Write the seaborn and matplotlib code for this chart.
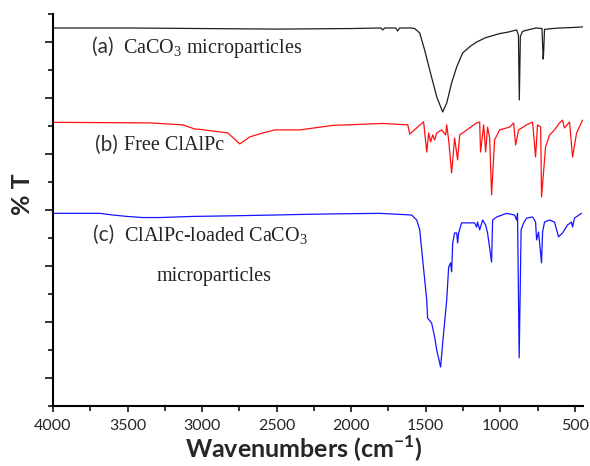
import numpy as np
import pandas as pd
import matplotlib
matplotlib.use('Agg')
import matplotlib.pyplot as plt
import seaborn as sns
from matplotlib.ticker import MultipleLocator

# spectra (wavenumber in cm-1, stacked %T in arbitrary units)
wn_a = [4000, 3500, 3000, 2500, 2000, 1800, 1788, 1775, 1700, 1688, 1675, 1600, 1574,
        1540, 1507, 1473, 1426, 1386, 1359, 1326, 1292, 1252, 1200, 1158, 1100, 1004,
        950, 890, 878, 872, 865, 850, 800, 760, 720, 712, 709, 703, 650, 600, 500, 448]
t_a = [13.50, 13.50, 13.48, 13.46, 13.48, 13.50, 13.43, 13.50, 13.50, 13.39, 13.50, 13.50, 13.48,
       13.32, 12.71, 12.00, 11.04, 10.50, 10.82, 11.54, 12.11, 12.61, 12.85, 13.00, 13.15, 13.30,
       13.35, 13.43, 13.25, 10.93, 13.20, 13.38, 13.45, 13.50, 13.48, 12.39, 12.60, 13.45, 13.48, 13.50, 13.52, 13.54]

wn_b = [4000, 3350, 3129, 3048, 3015, 2827, 2747, 2680, 2593, 2512, 2345, 2123, 1788, 1620,
        1607, 1514, 1493, 1480, 1467, 1453, 1440, 1426, 1393, 1366, 1359, 1346, 1326, 1306,
        1286, 1272, 1205, 1158, 1138, 1132, 1111, 1098, 1085, 1071, 1058, 1038, 1004, 937,
        910, 897, 877, 823, 783, 763, 750, 729, 723, 696, 669, 636, 602, 582, 569, 535, 515, 488, 448]
t_b = [10.13, 10.11, 10.04, 9.89, 9.88, 9.75, 9.36, 9.61, 9.75, 9.86, 9.86, 10.02, 10.09, 10.04,
       9.71, 10.15, 9.07, 9.75, 9.43, 9.68, 9.50, 9.75, 9.86, 9.68, 10.04, 9.50, 8.32, 9.57,
       8.79, 9.68, 9.93, 10.11, 10.14, 9.07, 10.04, 9.07, 9.96, 9.57, 7.54, 9.50, 9.86, 9.96,
       10.11, 9.32, 9.86, 10.04, 10.14, 8.89, 10.04, 9.96, 7.46, 9.25, 9.68, 9.86, 10.11, 10.21, 9.93, 10.14, 8.89, 9.75, 10.21]

wn_c = [4000, 3685, 3598, 3504, 3397, 3283, 3062, 2814, 2512, 2345, 2123, 1808, 1594, 1560,
        1540, 1520, 1493, 1487, 1460, 1440, 1426, 1400, 1386, 1359, 1346, 1333, 1326, 1319,
        1306, 1292, 1286, 1279, 1259, 1172, 1158, 1152, 1138, 1118, 1098, 1085, 1058, 1051,
        1024, 957, 904, 890, 884, 873, 860, 843, 823, 783, 763, 756, 743, 723, 716, 703,
        669, 636, 609, 582, 549, 522, 515, 502, 455]
t_c = [6.88, 6.88, 6.82, 6.77, 6.73, 6.73, 6.77, 6.79, 6.82, 6.84, 6.86, 6.88, 6.82, 6.64,
       6.29, 5.21, 3.79, 3.14, 2.96, 2.46, 2.00, 1.39, 2.25, 3.79, 4.96, 5.11, 4.79, 5.82,
       6.18, 6.18, 5.82, 6.18, 6.54, 6.54, 6.39, 6.57, 6.29, 6.64, 6.46, 6.18, 5.14, 6.64,
       6.75, 6.88, 6.82, 6.64, 6.88, 1.72, 6.29, 6.54, 6.71, 6.75, 6.57, 5.93, 6.21, 5.11, 6.21, 6.57,
       6.64, 6.57, 6.04, 6.18, 6.46, 6.57, 6.39, 6.71, 6.88]

x_ticks = [4000, 3500, 3000, 2500, 2000, 1500, 1000, 500]

sns.set_style('ticks')
plt.rcParams['font.family'] = ['Lato', 'DejaVu Sans']
plt.rcParams['mathtext.fontset'] = 'custom'
plt.rcParams['mathtext.rm'] = 'Liberation Serif'
plt.rcParams['mathtext.bf'] = 'Lato:bold'

fig = plt.figure(figsize=(5.9, 4.66), dpi=100)
ax = fig.add_axes([0.0898, 0.1288, 0.8983, 0.8412])

for wn, t, col in [(wn_a, t_a, '#1e1e1e'), (wn_b, t_b, '#ff1010'), (wn_c, t_c, '#1414ff')]:
    df = pd.DataFrame({'wn': wn, 't': t})
    sns.lineplot(data=df, x='wn', y='t', ax=ax, color=col, lw=0.9, sort=False, estimator=None)

ax.set_xlim(4000, 445)
ax.set_ylim(0, 14)
ax.set_xticks(x_ticks)
ax.xaxis.set_minor_locator(MultipleLocator(250))
ax.set_yticks(np.arange(1, 14, 2))
ax.yaxis.set_minor_locator(MultipleLocator(2))
ax.set_yticklabels([])
ax.tick_params(axis='x', which='major', length=4.5, width=1.3, labelsize=11.5, pad=5)
ax.tick_params(axis='x', which='minor', length=3.5, width=1.3)
ax.tick_params(axis='y', which='major', length=6, width=1.3)
ax.tick_params(axis='y', which='minor', length=3.5, width=1.3)
for s in ['top', 'right']:
    ax.spines[s].set_visible(False)
for s in ['left', 'bottom']:
    ax.spines[s].set_linewidth(1.5)
    ax.spines[s].set_color('black')

ax.set_xlabel(r'Wavenumbers (cm$^{\mathbf{-1}}$)', fontsize=18, fontweight='bold')
ax.xaxis.set_label_coords(0.474, -0.072)
ax.set_ylabel('% T', fontsize=18, fontweight='bold')
ax.yaxis.set_label_coords(-0.036, 0.54)

serif = dict(family='Liberation Serif', fontsize=14.5, color='#222222', va='center')
lab = dict(family='Lato', fontsize=15, color='#333333', va='center')
ax.text(3739, 12.82, '(a)', **lab)
ax.text(3531, 12.78, r'CaCO$_\mathregular{3}$ microparticles', **serif)
ax.text(3719, 9.32, '(b)', **lab)
ax.text(3524, 9.30, 'Free ClAlPc', **serif)
ax.text(3732, 6.11, '(c)', **lab)
ax.text(3524, 6.07, r'ClAlPc-loaded CaCO$_\mathregular{3}$', **serif)
ax.text(3303, 4.64, 'microparticles', **serif)

fig.savefig('out.png', dpi=100)
